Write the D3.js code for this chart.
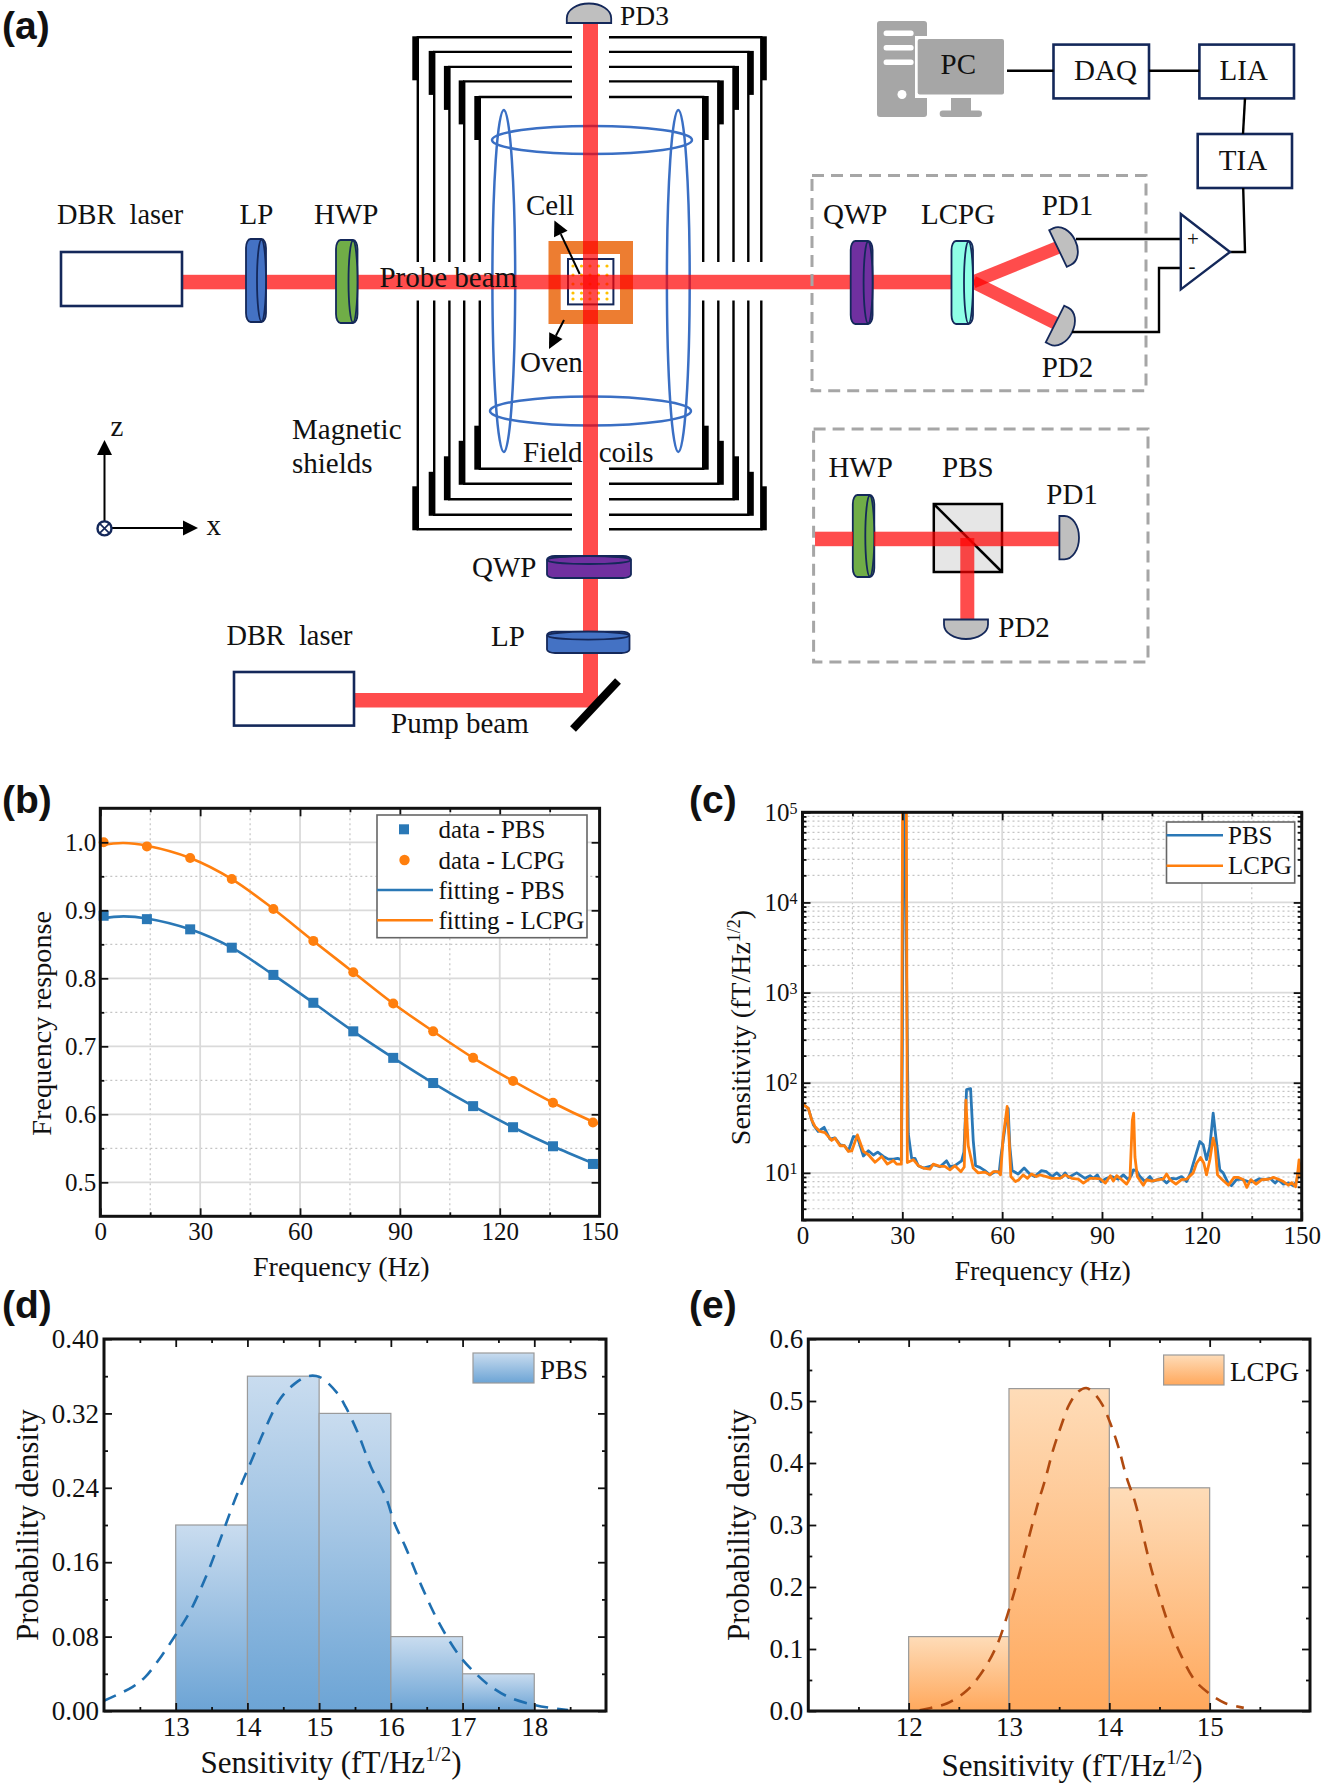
<!DOCTYPE html>
<html><head><meta charset="utf-8">
<script src="https://cdn.jsdelivr.net/npm/d3@7"></script>
<style>html,body{margin:0;padding:0;background:#fff}svg{display:block}text{font-family:"Liberation Serif",serif;fill:#111}</style>
</head><body><div id="c"></div>
<script>
// ---------- data ----------
const bDataX=[1,14,27,39.5,52,64,76,88,100,112,124,136,148];
const bPbs=[0.892,0.887,0.872,0.845,0.805,0.764,0.722,0.683,0.646,0.612,0.581,0.553,0.527];
const bLcpg=[1.0,0.994,0.977,0.946,0.902,0.855,0.809,0.763,0.722,0.683,0.649,0.617,0.588];
const bFitX=[0,7,14,27,39.5,52,64,76,88,100,112,124,136,148,149.5];
const bFitPbs=[0.888,0.891,0.888,0.872,0.845,0.805,0.764,0.722,0.683,0.646,0.612,0.581,0.553,0.528,0.525];
const bFitLcpg=[0.996,0.999,0.995,0.977,0.946,0.902,0.855,0.809,0.763,0.722,0.683,0.649,0.617,0.589,0.586];
const cPbsF=[0.25,1.75,2.75,3.3,4.7,6.5,8.25,9.75,11.3,12.6,13.8,15.3,16.5,18.3,19.8,21.3,22.6,24.3,25.8,27.3,28.6,29.7,30,30.4,30.8,31.2,31.8,32.8,33.8,34.8,36.3,38.3,39.3,41.3,43.3,44.3,45.8,47.8,48.5,49.3,50.5,51.3,52,53.3,54.8,56.3,57.8,59.1,59.6,61.3,61.8,62.3,63,64.8,66.6,68.3,69.8,71.8,73.3,75,76.4,77.9,78.9,79.9,82.4,84.9,86.4,87.4,88.6,89.7,91.4,92.9,94.9,96.4,97.9,98.9,99.4,100.4,101.4,102.9,104.4,105.4,107.9,109.4,110.9,112.4,113.9,115.4,116.6,117.9,119.4,120.4,121.4,122.4,123.4,124.2,125.4,126.4,127.9,128.9,130.4,131.9,133.9,135.7,137.3,139,140.5,142,143,144.5,146,147.5,148.5,149.2,149.7];
const cPbsV=[57,52,39,34,28.8,32,23.7,24.5,20.5,20,17.5,25.3,25,15.4,17.6,15.8,17,15.2,14.2,14.2,14.5,14,260,200000,200000,3000,27,14.5,14.5,12,11.3,11.8,12.3,11.7,13.6,11.7,12,13.6,17,84,86,23,12,11.5,10.6,9.5,10.3,10.1,15,42,52,19.6,10.6,9.7,11.3,9.7,9.1,10.6,10.3,9.1,10,8.9,10,8.9,10,8.7,9.3,8.7,9.5,8,8.7,9.1,8.5,9.5,8.4,9.5,10.8,10.6,9.1,8,9.1,8.1,8.7,7.7,8.7,8.6,9.1,8,10,14.6,22.3,20.5,14,19.6,46,25,10.8,10,7.7,7.2,8.4,8.5,8,8,8.6,8.4,8.7,7.7,8.4,7.5,7.7,7.2,8,11.8,13];
const cLcpgF=[0.25,1.75,2.75,3.75,5.25,6.75,8.75,9.75,11.3,12.6,13.8,14.8,16.5,18.3,19.8,21.8,23.8,25.5,27.3,28.3,29.7,30.1,31.2,31.5,33.3,34.8,36.3,38.3,39.3,41.3,42.8,44.3,45.8,47.6,48.6,49.1,49.8,51.3,52.8,54.8,56.3,57.3,58.8,59.5,60.3,61.5,62.1,62.6,64,65,66.3,67.6,68.8,70.3,71.3,73.3,75,77.4,78.9,80.9,82.9,84.4,86.4,87.9,89.4,91,92.5,93.4,94.4,95.9,97.4,98.4,99.1,99.5,99.9,100.6,102.4,103.4,104.9,106.9,108.4,109.4,110.4,112.2,113.9,115.4,117.4,118.4,119.6,120.6,121.4,122.4,123.4,124,124.7,126,128,129.7,131,132.5,133.5,134.7,136.3,138,140,141.5,143,144.5,146,147,148.2,148.8,149.2,149.7];
const cLcpgV=[57,52,38.8,32.7,28.8,28,22.9,24.3,20,20,17.3,17.5,26.4,17.3,15.9,13.1,15.2,12.5,13.7,12.5,12.5,200000,200000,13,14,12,11.3,11,12.5,11.8,11.8,10.8,12,10.3,11.6,64,20,11.3,10,10.2,9.5,10.3,10.3,9.5,25,54.6,23,9.1,8,8.4,9.5,8.7,9.7,9.1,9.5,9.1,8.7,8.7,9.5,8.7,8.5,7.7,8.7,8.7,8.6,7.7,9.3,8.1,9.3,8.4,7.5,8.7,38,46,15,9.1,7.3,8.4,8.1,8.4,8.5,9.7,8.4,7.5,8.4,8.5,10,12.8,14.8,12.8,9.5,14,24.3,19.6,9.5,8.5,7.3,8.9,8.9,8.4,6.9,8.4,7.5,8.4,8.5,8.9,8.5,8,7.3,7.8,7,10,13.9,9];
const dBins=[13,14,15,16,17];
const dDensity=[0.2,0.36,0.32,0.08,0.04];
const dCurveX=[12,12.4,12.58,12.8,13,13.2,13.43,13.6,13.84,14.05,14.25,14.46,14.66,14.84,15.01,15.25,15.37,15.54,15.72,15.93,16.05,16.2,16.43,16.67,16.96,17.2,17.4,17.67,18,18.2,18.47];
const dCurveY=[0.011,0.026,0.037,0.059,0.082,0.107,0.146,0.18,0.23,0.268,0.304,0.336,0.352,0.36,0.359,0.342,0.327,0.299,0.263,0.23,0.202,0.177,0.134,0.095,0.059,0.039,0.026,0.014,0.0065,0.0036,0.001];
const eBins=[12,13,14];
const eDensity=[0.12,0.52,0.36];
const eCurveX=[12.11,12.22,12.38,12.58,12.75,12.89,12.99,13.05,13.13,13.2,13.28,13.36,13.44,13.52,13.6,13.69,13.77,13.85,13.93,14.01,14.09,14.17,14.26,14.34,14.42,14.52,14.62,14.72,14.85,14.99,15.15,15.34];
const eCurveY=[0.001,0.005,0.012,0.033,0.067,0.11,0.158,0.19,0.238,0.281,0.33,0.373,0.421,0.46,0.494,0.515,0.521,0.512,0.494,0.464,0.426,0.378,0.335,0.281,0.228,0.174,0.126,0.088,0.05,0.029,0.013,0.005];
const xTicksFreq=[0,30,60,90,120,150];
const bYTicks=[0.5,0.6,0.7,0.8,0.9,1.0];
const dYTicks=[0,0.08,0.16,0.24,0.32,0.40];
const eYTicks=[0,0.1,0.2,0.3,0.4,0.5,0.6];

// ---------- setup ----------
const W=1322,H=1787;
const svg=d3.select("#c").append("svg").attr("width",W).attr("height",H).attr("viewBox",`0 0 ${W} ${H}`);
const defs=svg.append("defs");
const BLUE="#2a78b6",ORANGE="#ff7f0e",NAVY="#14285a";
function txt(p,s,x,y,size=28,anchor="start"){return p.append("text").attr("x",x).attr("y",y).attr("font-size",size).attr("text-anchor",anchor).text(s);}
function panelLabel(s,x,y){svg.append("text").attr("x",x).attr("y",y).attr("font-size",39).attr("font-weight","bold").style("font-family","'Liberation Sans',sans-serif").text(s);}
function supLabel(g,x,y,size,rot){
  const t=g.append("text").attr("font-size",size).attr("text-anchor","middle")
    .attr("transform",`translate(${x},${y})`+(rot?" rotate(-90)":""));
  t.append("tspan").text("Sensitivity (fT/Hz");
  t.append("tspan").attr("dy",-size*0.38).attr("font-size",size*0.66).text("1/2");
  t.append("tspan").attr("dy",size*0.38).text(")");
}
function axes(g,x,y,iw,ih,o){
  const fs=o.xFont||25,fy=o.yFont||25;
  const mk=(ax,tr,ticks,fmt,size,pad,font)=>{
    const a=g.append("g").attr("transform",tr).call(ax.tickValues(ticks).tickSizeInner(-size).tickSizeOuter(0).tickPadding(pad).tickFormat(fmt));
    a.select(".domain").remove();
    a.selectAll("line").attr("stroke","#111").attr("stroke-width",1.8);
    a.selectAll("text").attr("font-size",font).style("font-family","'Liberation Serif',serif").attr("fill","#111");
    return a;
  };
  const none=()=>"";
  mk(d3.axisBottom(x),`translate(0,${ih})`,o.xt,o.xFmt||d3.format("d"),8,o.xPad,fs);
  mk(d3.axisTop(x),"translate(0,0)",o.xt,none,8,0,fs);
  const ya=mk(d3.axisLeft(y),"translate(0,0)",o.yt,o.yFmt,8,o.yPad,fy);
  mk(d3.axisRight(y),`translate(${iw},0)`,o.yt,none,8,0,fy);
  if(o.xm){mk(d3.axisBottom(x),`translate(0,${ih})`,o.xm,none,4,0,fs);mk(d3.axisTop(x),"translate(0,0)",o.xm,none,4,0,fs);}
  if(o.ym){mk(d3.axisLeft(y),"translate(0,0)",o.ym,none,4,0,fy);mk(d3.axisRight(y),`translate(${iw},0)`,o.ym,none,4,0,fy);}
  g.append("rect").attr("width",iw).attr("height",ih).attr("fill","none").attr("stroke","#111").attr("stroke-width",3);
  return ya;
}
function grid(g,x,y,iw,ih,xs,ys,style){
  g.append("g").selectAll("line").data(xs).join("line").attr("x1",d=>x(d)).attr("x2",d=>x(d)).attr("y1",0).attr("y2",ih).call(style);
  g.append("g").selectAll("line").data(ys).join("line").attr("x1",0).attr("x2",iw).attr("y1",d=>y(d)).attr("y2",d=>y(d)).call(style);
}
const major=s=>s.attr("stroke","#dadada").attr("stroke-width",1.8);
const minor=s=>s.attr("stroke","#c4c4c4").attr("stroke-width",1.2).attr("stroke-dasharray","2 3");

// ---------- panel (a) ----------
(function(){
  const a=svg.append("g");
  const beamC="#ff0000";
  const sL=[417.8,434.2,449.4,464.2,479.8],sR=[761.3,748.3,733.5,718.3,703.2],sT=[37.3,51.9,66.9,81.4,97],sB=[529.3,514.8,499.3,483.8,468.7];
  const sh=a.append("g").attr("stroke","#000").attr("stroke-width",2.4).attr("fill","none");
  sL.forEach((l,i)=>{
    const r=sR[i],t=sT[i],b=sB[i];
    sh.append("path").attr("d",`M572,${t}H${l}V262M572,${b}H${l}V300.5M609,${t}H${r}V262M609,${b}H${r}V300.5`);
    [[l-5.5,t-1],[r,t-1],[l-5.5,b-43],[r,b-43]].forEach(c=>a.append("rect").attr("x",c[0]).attr("y",c[1]).attr("width",5.5).attr("height",44).attr("fill","#000"));
  });
  const coil=a.append("g").attr("fill","none").attr("stroke","#3a6fc4").attr("stroke-width",2.5);
  [[503.8,281,11.4,171],[678.3,281,11.4,171],[592,140,100,14],[590.5,411,100.5,14.5]].forEach(e=>coil.append("ellipse").attr("cx",e[0]).attr("cy",e[1]).attr("rx",e[2]).attr("ry",e[3]));
  a.append("path").attr("d","M548.5,241H633V324H548.5ZM560.7,254V310H620V254Z").attr("fill","#ed7d31").attr("fill-rule","evenodd");
  a.append("rect").attr("x",568).attr("y",259).attr("width",45.4).attr("height",45.4).attr("fill","#fff").attr("stroke",NAVY).attr("stroke-width",2);
  [573,581.5,590,598.5,607].forEach(x=>[266,275,284,293,299].forEach(y=>a.append("circle").attr("cx",x).attr("cy",y).attr("r",1.6).attr("fill","#ffc000")));
  const beams=a.append("g").attr("fill",beamC);
  const bar=(x,y,w,h)=>beams.append("rect").attr("x",x).attr("y",y).attr("width",w).attr("height",h).attr("fill-opacity",0.7);
  bar(182,274.8,791,14.5); bar(583,23,15,670); bar(354,693,244,14.5);
  a.append("line").attr("x1",973).attr("y1",282).attr("x2",1059).attr("y2",247).attr("stroke",beamC).attr("stroke-opacity",.7).attr("stroke-width",13);
  a.append("line").attr("x1",973).attr("y1",282).attr("x2",1059).attr("y2",325).attr("stroke",beamC).attr("stroke-opacity",.7).attr("stroke-width",13);
  a.append("line").attr("x1",573).attr("y1",729).attr("x2",618).attr("y2",681).attr("stroke","#000").attr("stroke-width",8);
  const box=(x0,y0,x1,y1)=>a.append("rect").attr("x",x0).attr("y",y0).attr("width",x1-x0).attr("height",y1-y0).attr("fill","#fff").attr("stroke",NAVY).attr("stroke-width",2.6);
  box(61,252,182,306); box(234,672,354,725.6);
  box(1053.5,44.6,1149,98.4); box(1199.4,44.6,1294,98.4); box(1197.7,134,1292,188);
  function lensV(x0,x1,y0,y1,fill){
    a.append("rect").attr("x",x0).attr("y",y0).attr("width",x1-x0).attr("height",y1-y0).attr("rx",4.5).attr("ry",9).attr("fill",fill).attr("stroke",NAVY).attr("stroke-width",1.8);
    a.append("ellipse").attr("cx",x1-4.5).attr("cy",(y0+y1)/2).attr("rx",4.5).attr("ry",(y1-y0)/2-.5).attr("fill",fill).attr("stroke",NAVY).attr("stroke-width",1.8);
  }
  function lensH(x0,x1,y0,y1,fill){
    a.append("rect").attr("x",x0).attr("y",y0).attr("width",x1-x0).attr("height",y1-y0).attr("rx",8).attr("ry",3.5).attr("fill",fill).attr("stroke",NAVY).attr("stroke-width",1.8);
    a.append("ellipse").attr("cx",(x0+x1)/2).attr("cy",y0+4).attr("rx",(x1-x0)/2-.5).attr("ry",4).attr("fill",fill).attr("stroke",NAVY).attr("stroke-width",1.8);
  }
  lensV(246,266,239,322,"#4472c4"); lensV(336,357.5,240,323,"#70ad47");
  lensV(850.7,872.6,241,324,"#7030a0"); lensV(951.5,973,241,324,"#8fffe6");
  lensV(852.8,874.3,495,577,"#70ad47");
  lensH(547,631,556,578,"#7030a0"); lensH(547,629.5,631.6,653,"#4472c4");
  a.append("rect").attr("x",933.8).attr("y",504).attr("width",68.2).attr("height",68).attr("fill","#e6e6e6").attr("stroke","#000").attr("stroke-width",2.5);
  a.append("line").attr("x1",933.8).attr("y1",504).attr("x2",1002).attr("y2",572).attr("stroke","#000").attr("stroke-width",2.5);
  a.append("rect").attr("x",874).attr("y",531.7).attr("width",185.4).attr("height",14.5).attr("fill",beamC).attr("fill-opacity",.7);
  a.append("rect").attr("x",815).attr("y",531.7).attr("width",38).attr("height",14.5).attr("fill",beamC).attr("fill-opacity",.7);
  a.append("rect").attr("x",960.3).attr("y",538).attr("width",14).attr("height",81.5).attr("fill",beamC).attr("fill-opacity",.7);
  function det(cx,cy,len,dep,rot){
    a.append("path").attr("transform",`translate(${cx},${cy}) rotate(${rot})`)
     .attr("d",`M0,${-len/2}H${dep*0.25}A${dep*0.75},${len/2} 0 0 1 ${dep*0.25},${len/2}H0Z`)
     .attr("fill","#bfbfbf").attr("stroke",NAVY).attr("stroke-width",1.8);
  }
  det(1058,248.5,40.6,19,-25.7); det(1055,324,41,19,26.8);
  det(1059.4,537.7,43.4,19.6,0); det(966,619.5,44,19.5,90); det(589,23,44.4,19.5,-90);
  const wire=a.append("g").attr("fill","none").attr("stroke","#000").attr("stroke-width",2.4);
  ["M1002,70.8H1053.5","M1149,70.8H1199.4","M1245,98.4L1243,134","M1243.2,188L1245,252H1230","M1076,239H1180.8","M1072,332H1159V268H1180.8"].forEach(d=>wire.append("path").attr("d",d));
  a.append("path").attr("d","M1180.8,214L1230,252L1180.8,289.4Z").attr("fill","#fff").attr("stroke",NAVY).attr("stroke-width",2.4);
  txt(a,"+",1193,245.5,21,"middle"); txt(a,"-",1192,273,21,"middle");
  const dash=(x0,y0,x1,y1)=>a.append("rect").attr("x",x0).attr("y",y0).attr("width",x1-x0).attr("height",y1-y0).attr("fill","none").attr("stroke","#a6a6a6").attr("stroke-width",3).attr("stroke-dasharray","12 7");
  dash(812,175.5,1146,390.7); dash(813.6,429,1148,662);
  const g="#a6a6a6";
  a.append("rect").attr("x",877).attr("y",21).attr("width",50).attr("height",96).attr("rx",3).attr("fill",g);
  [30.5,45,59.5].forEach(y=>a.append("rect").attr("x",883.6).attr("y",y).attr("width",30).attr("height",5.5).attr("rx",2.5).attr("fill","#fff"));
  a.append("circle").attr("cx",902).attr("cy",94.5).attr("r",4.5).attr("fill","#fff");
  a.append("rect").attr("x",915).attr("y",36).attr("width",92).attr("height",62).attr("fill","#fff");
  a.append("rect").attr("x",917.7).attr("y",39).attr("width",86.3).attr("height",55.5).attr("rx",2).attr("fill",g);
  a.append("rect").attr("x",951).attr("y",98).attr("width",20).attr("height",13).attr("fill",g);
  a.append("rect").attr("x",939.7).attr("y",110.5).attr("width",42.3).attr("height",6.5).attr("rx",3).attr("fill",g);
  const arrow=(x1,y1,x2,y2,sz)=>{
    const ang=Math.atan2(y2-y1,x2-x1),d=sz;
    const bx=x2-d*Math.cos(ang),by=y2-d*Math.sin(ang),px=Math.sin(ang)*d*.5,py=-Math.cos(ang)*d*.5;
    a.append("line").attr("x1",x1).attr("y1",y1).attr("x2",bx).attr("y2",by).attr("stroke","#000").attr("stroke-width",2);
    a.append("path").attr("d",`M${x2},${y2}L${bx+px},${by+py}L${bx-px},${by-py}Z`).attr("fill","#000");
  };
  arrow(579.7,274,554.4,220.5,15); arrow(564,320,549,349,15);
  arrow(104.5,528,104.5,440,15); arrow(104.5,528,198,528,15);
  a.append("circle").attr("cx",104.5).attr("cy",528.4).attr("r",7).attr("fill","#fff").attr("stroke",NAVY).attr("stroke-width",2.4);
  a.append("path").attr("d","M100,523.9L109,532.9M109,523.9L100,532.9").attr("stroke",NAVY).attr("stroke-width",1.6);
  [["LP",239.5,224],["HWP",314,224],["Probe beam",379.4,287],["Cell",526,214.7],["Oven",520,372],
   ["Magnetic",292,438.7],["shields",292,472.6],["Field",523,461.5],["coils",598.7,461.5],["QWP",472,577],["LP",491,646],
   ["Pump beam",391,733],["PC",940.5,73.7],["DAQ",1074,80],["LIA",1219.6,80],["TIA",1218.8,169.7],
   ["QWP",823,224],["LCPG",921,224],["PD1",1041.7,214.7],["PD2",1041.7,376.6],["HWP",828.4,476.5],["PBS",942,476.5],["PD1",1046.3,504],["PD2",998.3,636.5],
   ["z",110.5,436],["x",206.6,534.6]].forEach(t=>txt(a,t[0],t[1],t[2],29));
  [["DBR  laser",57,224],["DBR  laser",226.4,645]].forEach(t=>txt(a,t[0],t[1],t[2],28.4).style("white-space","pre"));
  txt(a,"PD3",620,24.5,27.5);
})();
panelLabel("(a)",2,39);

// ---------- panel (b) ----------
(function(){
  const L=100.3,T=808.3,iw=499.3,ih=408;
  const g=svg.append("g").attr("transform",`translate(${L},${T})`);
  const x=d3.scaleLinear().domain([0,150]).range([0,iw]);
  const y=d3.scaleLinear().domain([0.45,1.05]).range([ih,0]);
  grid(g,x,y,iw,ih,[15,45,75,105,135],[0.55,0.65,0.75,0.85,0.95],minor);
  grid(g,x,y,iw,ih,[30,60,90,120],bYTicks,major);
  const line=d3.line().x(d=>x(d[0])).y(d=>y(d[1])).curve(d3.curveCatmullRom);
  [[bFitPbs,BLUE],[bFitLcpg,ORANGE]].forEach(s=>g.append("path").attr("d",line(bFitX.map((v,i)=>[v,s[0][i]]))).attr("fill","none").attr("stroke",s[1]).attr("stroke-width",2.6));
  g.selectAll(".p").data(bDataX.map((v,i)=>[v,bPbs[i]])).join("rect").attr("x",d=>x(d[0])-5).attr("y",d=>y(d[1])-5).attr("width",10).attr("height",10).attr("fill",BLUE);
  g.selectAll(".q").data(bDataX.map((v,i)=>[v,bLcpg[i]])).join("circle").attr("cx",d=>x(d[0])).attr("cy",d=>y(d[1])).attr("r",5).attr("fill",ORANGE);
  axes(g,x,y,iw,ih,{xt:xTicksFreq,xm:[15,45,75,105,135],yt:bYTicks,ym:[0.55,0.65,0.75,0.85,0.95],yFmt:d3.format(".1f"),xPad:6,yPad:4,xFont:25,yFont:25});
  txt(g,"Frequency (Hz)",341.3-L,1276-T,28,"middle");
  txt(g,"Frequency response",0,0,28.2,"middle").attr("transform",`translate(${50.6-L},${1023.3-T}) rotate(-90)`);
  const lg=svg.append("g");
  lg.append("rect").attr("x",377).attr("y",815).attr("width",210).attr("height",122.7).attr("fill","#fff").attr("stroke","#666").attr("stroke-width",1.6);
  lg.append("rect").attr("x",399).attr("y",824.3).attr("width",10).attr("height",10).attr("fill",BLUE);
  lg.append("circle").attr("cx",404.5).attr("cy",860).attr("r",5.2).attr("fill",ORANGE);
  lg.append("line").attr("x1",377).attr("x2",433).attr("y1",890).attr("y2",890).attr("stroke",BLUE).attr("stroke-width",2.6);
  lg.append("line").attr("x1",377).attr("x2",433).attr("y1",920.3).attr("y2",920.3).attr("stroke",ORANGE).attr("stroke-width",2.6);
  [["data - PBS",838],["data - LCPG",868.5],["fitting - PBS",898.5],["fitting - LCPG",929]].forEach(r=>txt(lg,r[0],438.5,r[1],25));
})();
panelLabel("(b)",2,813);

// ---------- panel (c) ----------
(function(){
  const L=802.5,T=812.3,iw=499.2,ih=407.7;
  const g=svg.append("g").attr("transform",`translate(${L},${T})`);
  const x=d3.scaleLinear().domain([0,150]).range([0,iw]);
  const y=d3.scaleLog().domain([3,1e5]).range([ih,0]);
  const decades=[10,100,1000,10000,100000];
  const minors=[];[1,10,100,1000,10000].forEach(d=>[2,3,4,5,6,7,8,9].forEach(m=>{const v=d*m;if(v>=3&&v!==10)minors.push(v);}));
  grid(g,x,y,iw,ih,[15,45,75,105,135],minors,minor);
  grid(g,x,y,iw,ih,[30,60,90,120],decades,major);
  defs.append("clipPath").attr("id","clipC").append("rect").attr("width",iw).attr("height",ih);
  const line=d3.line().x(d=>x(d[0])).y(d=>y(d[1]));
  const c=g.append("g").attr("clip-path","url(#clipC)");
  [[cPbsF,cPbsV,BLUE],[cLcpgF,cLcpgV,ORANGE]].forEach(s=>c.append("path").attr("d",line(s[0].map((v,i)=>[v,s[1][i]]))).attr("fill","none").attr("stroke",s[2]).attr("stroke-width",2.8).attr("stroke-linejoin","round"));
  const ya=axes(g,x,y,iw,ih,{xt:xTicksFreq,xm:[15,45,75,105,135],yt:decades,ym:minors,yFmt:()=>"10",xPad:6,yPad:5,xFont:25,yFont:25});
  ya.selectAll(".tick text").each(function(d){d3.select(this).append("tspan").attr("dy","-0.45em").attr("font-size",16).text(Math.round(Math.log10(d)));});
  txt(g,"Frequency (Hz)",1042.7-L,1280-T,28,"middle");
  const t=g.append("text").attr("font-size",28).attr("text-anchor","middle").attr("transform",`translate(${749.7-L},${1027.5-T}) rotate(-90)`);
  t.append("tspan").text("Sensitivity (fT/Hz");t.append("tspan").attr("dy",-10).attr("font-size",18).text("1/2");t.append("tspan").attr("dy",10).text(")");
  const lg=svg.append("g");
  lg.append("rect").attr("x",1166.5).attr("y",822).attr("width",128.2).attr("height",61).attr("fill","#fff").attr("stroke","#666").attr("stroke-width",1.6);
  lg.append("line").attr("x1",1166.5).attr("x2",1223).attr("y1",835.3).attr("y2",835.3).attr("stroke",BLUE).attr("stroke-width",2.6);
  lg.append("line").attr("x1",1166.5).attr("x2",1223).attr("y1",865.7).attr("y2",865.7).attr("stroke",ORANGE).attr("stroke-width",2.6);
  txt(lg,"PBS",1228,844,25); txt(lg,"LCPG",1228,874,25);
})();
panelLabel("(c)",689,813);

// ---------- histograms ----------
function gradient(id,top,bottom){
  const gr=defs.append("linearGradient").attr("id",id).attr("x1",0).attr("x2",0).attr("y1",0).attr("y2",1);
  gr.append("stop").attr("offset","0%").attr("stop-color",top);
  gr.append("stop").attr("offset","100%").attr("stop-color",bottom);
}
gradient("gB","#c9dcef","#6ca4d5");
gradient("gO","#fedcb8","#ffa85c");
function histo(o){
  const g=svg.append("g").attr("transform",`translate(${o.L},${o.T})`);
  const x=d3.scaleLinear().domain(o.xd).range([0,o.iw]);
  const y=d3.scaleLinear().domain(o.yd).range([o.ih,0]);
  g.selectAll(".bar").data(o.bins.map((b,i)=>[b,o.dens[i]])).join("rect")
    .attr("x",d=>x(d[0])).attr("y",d=>y(d[1])).attr("width",d=>x(d[0]+1)-x(d[0])).attr("height",d=>o.ih-y(d[1]))
    .attr("fill",`url(#${o.grad})`).attr("stroke","#9a9a9a").attr("stroke-width",1.2);
  g.append("path").attr("d",d3.line().x(d=>x(d[0])).y(d=>y(d[1])).curve(d3.curveCatmullRom)(o.cx.map((v,i)=>[v,o.cy[i]])))
    .attr("fill","none").attr("stroke",o.curve).attr("stroke-width",2.6).attr("stroke-dasharray","13 9");
  axes(g,x,y,o.iw,o.ih,{xt:o.xt,xm:o.xm,yt:o.yt,ym:o.ym,yFmt:d3.format(o.yf),xPad:o.xPad,yPad:5,xFont:27,yFont:27});
  supLabel(g,o.xlx-o.L,o.xly-o.T,31,false);
  txt(g,"Probability density",0,0,30.5,"middle").attr("transform",`translate(${o.ylx-o.L},${1525-o.T}) rotate(-90)`);
  svg.append("rect").attr("x",o.lg[0]).attr("y",o.lg[1]).attr("width",o.lg[2]).attr("height",30).attr("fill",`url(#${o.grad})`).attr("stroke","#9a9a9a").attr("stroke-width",1.2);
  txt(svg,o.name,o.lg[0]+o.lg[2]+6,o.lg[1]+26,27);
}
histo({L:104,T:1339,iw:502,ih:372,xd:[12,19],yd:[0,0.4],bins:dBins,dens:dDensity,grad:"gB",cx:dCurveX,cy:dCurveY,curve:"#1f6fb0",
  xt:[13,14,15,16,17,18],xm:[12.5,13.5,14.5,15.5,16.5,17.5,18.5],yt:dYTicks,ym:[0.04,0.12,0.2,0.28,0.36],yf:".2f",xPad:6,xlx:331,xly:1773,ylx:38,lg:[473,1353,61],name:"PBS"});
panelLabel("(d)",2,1318);
histo({L:808.3,T:1339,iw:501.7,ih:372,xd:[11,16],yd:[0,0.6],bins:eBins,dens:eDensity,grad:"gO",cx:eCurveX,cy:eCurveY,curve:"#b04a10",
  xt:[12,13,14,15],xm:[11.5,12.5,13.5,14.5,15.5],yt:eYTicks,ym:[0.05,0.15,0.25,0.35,0.45,0.55],yf:".1f",xPad:6,xlx:1072,xly:1776,ylx:749,lg:[1163.6,1355,60.4],name:"LCPG"});
panelLabel("(e)",689,1318);
</script></body></html>
